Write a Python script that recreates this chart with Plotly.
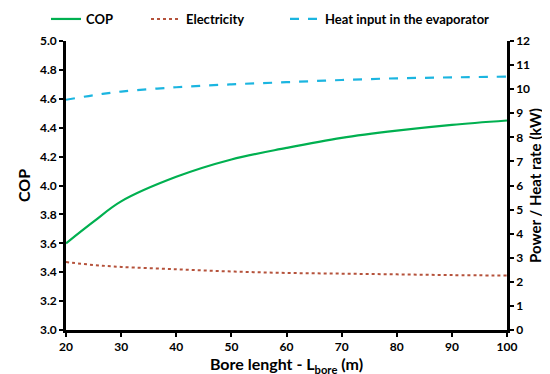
import plotly.graph_objects as go

bore_length = [20, 25, 30, 40, 50, 60, 70, 80, 90, 100]
cop = [3.60, 3.75, 3.89, 4.06, 4.18, 4.26, 4.33, 4.38, 4.42, 4.45]
electricity = [2.82, 2.70, 2.62, 2.52, 2.43, 2.37, 2.34, 2.31, 2.28, 2.26]
heat_evap = [9.56, 9.75, 9.90, 10.08, 10.20, 10.29, 10.38, 10.45, 10.49, 10.52]

font = "Lato"
W, H = 550, 374

fig = go.Figure()
fig.add_trace(go.Scatter(x=bore_length, y=cop, name="COP", mode="lines", legend="legend",
                         line=dict(color="#00B050", width=2.2, shape="spline")))
fig.add_trace(go.Scatter(x=bore_length, y=electricity, name="Electricity", mode="lines", yaxis="y2",
                         legend="legend2",
                         line=dict(color="#B5523B", width=2, dash="dot", shape="spline")))
fig.add_trace(go.Scatter(x=bore_length, y=heat_evap, name="Heat input in the evaporator", mode="lines",
                         yaxis="y2", legend="legend3",
                         line=dict(color="#1BB5E0", width=2.2, dash="dash", shape="spline")))

axis_common = dict(showline=True, linecolor="black", linewidth=2.5, ticks="outside",
                   tickwidth=2, ticklen=4, tickcolor="black", showgrid=False, zeroline=False,
                   tickfont=dict(family=font, size=12, color="black", weight="bold"))

def leg(px):
    return dict(orientation="h", xref="container", yref="container",
                x=px / W, xanchor="left", y=1 - 11 / H, yanchor="middle",
                bgcolor="rgba(0,0,0,0)", borderwidth=0,
                font=dict(family=font, size=13, color="black", weight="bold"))

fig.update_layout(
    width=W, height=H,
    margin=dict(l=58, r=51, t=33, b=52, autoexpand=False),
    plot_bgcolor="white", paper_bgcolor="white",
    font=dict(family=font, color="black"),
    xaxis=dict(range=[20, 100], dtick=10, tick0=20,
               title=dict(text="Bore lenght - L<sub>bore</sub> (m)", standoff=4,
                          font=dict(family=font, size=16, color="black", weight="bold")),
               **axis_common),
    yaxis=dict(range=[3.0, 5.0], dtick=0.2, tickformat=".1f",
               title=dict(text="COP", standoff=6,
                          font=dict(family=font, size=16, color="black", weight="bold")),
               **axis_common),
    yaxis2=dict(range=[0, 12], dtick=1, overlaying="y", side="right",
                title=dict(text="Power / Heat rate (kW)", standoff=2,
                           font=dict(family=font, size=15, color="black", weight="bold")),
                **axis_common),
    legend=leg(38),
    legend2=leg(138),
    legend3=leg(277),
    showlegend=True,
)

fig.write_html("out.html")
